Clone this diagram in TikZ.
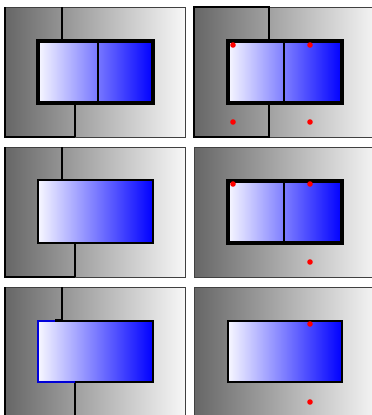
\documentclass[tikz,border=0pt]{standalone}
\usepackage{tikz}
\begin{document}
\begin{tikzpicture}[x=1pt, y=-1pt,
  frame/.style={draw=black!75, line width=0.8pt, left color=black!60, right color=black!3},
  region/.style={draw=black, line width=2.2pt},
  cell/.style={left color=blue!3, right color=blue},
  dot/.style={fill=red}]
  \clip (0,0) rectangle (372,415);
  \fill[white] (0,0) rectangle (372,415);
  % left column: shaded frame with the stepped region boundary
  \foreach \y in {0,140,280}{
    \begin{scope}[shift={(0,\y)}]
      \shade[frame] (5,7) rectangle (185,137);
      \draw[region] (62,7) -- (62,40) -- (55,40);
      \draw[region] (75,103) -- (75,137);
      \draw[region] (5,7) -- (5,137) -- (75,137);
    \end{scope}
  }
  % left, row 1
  \shade[cell, draw=black, line width=3.5pt] (38,41) rectangle (153,103);
  \draw[line width=1.8pt] (98,41) -- (98,103);
  % left, row 2
  \begin{scope}[shift={(0,140)}]
    \shade[cell, draw=black, line width=2.8pt] (38,40) rectangle (153,103);
  \end{scope}
  % left, row 3
  \begin{scope}[shift={(0,280)}]
    \shade[cell] (38,41) rectangle (153,102);
    \draw[blue!85!black, line width=1.3pt] (55,41) -- (38,41) -- (38,102) -- (75,102);
    \draw[line width=2.8pt] (55,41) -- (153,41) -- (153,102) -- (75,102);
  \end{scope}
  % right column
  \begin{scope}[shift={(189,0)}]
    \shade[frame] (5,7) rectangle (190,137);
    \draw[region] (5,7) rectangle (80,137);
    \shade[cell, draw=black, line width=3.2pt] (39,41) rectangle (153,103);
    \draw[line width=1.8pt] (95,41) -- (95,103);
    \foreach \x/\y in {44/45, 121/45, 44/122, 121/122}
      \fill[dot] (\x,\y) circle (2.8);
  \end{scope}
  \begin{scope}[shift={(189,140)}]
    \shade[frame] (5,7) rectangle (190,137);
    \shade[cell, draw=black, line width=3.2pt] (39,41) rectangle (153,103);
    \draw[line width=1.8pt] (95,41) -- (95,103);
    \foreach \x/\y in {44/44, 121/44, 121/122}
      \fill[dot] (\x,\y) circle (2.8);
  \end{scope}
  \begin{scope}[shift={(189,280)}]
    \shade[frame] (5,7) rectangle (190,137);
    \shade[cell, draw=black, line width=2.8pt] (39,41) rectangle (153,102);
    \foreach \x/\y in {121/44, 121/122}
      \fill[dot] (\x,\y) circle (2.8);
  \end{scope}
\end{tikzpicture}
\end{document}
